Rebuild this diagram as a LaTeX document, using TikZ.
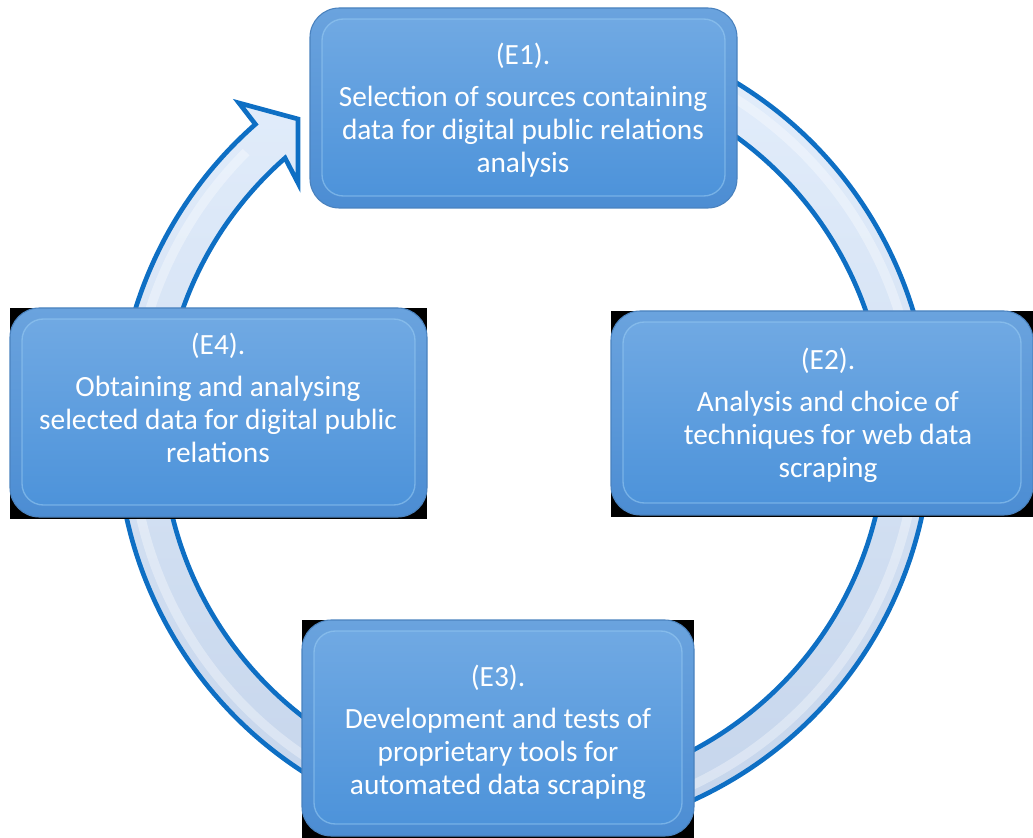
\documentclass[tikz,border=0pt]{standalone}
\usepackage{fontspec}
\setmainfont{Carlito}
\definecolor{ringline}{HTML}{0E6FC4}
\definecolor{ringtop}{HTML}{E2EDFB}
\definecolor{ringbot}{HTML}{C3D3EA}
\definecolor{rimedge}{HTML}{4A82BE}
\definecolor{rimtop}{HTML}{6AA3DE}
\definecolor{rimbot}{HTML}{4C8DD3}
\definecolor{facetop}{HTML}{70A9E3}
\definecolor{facebot}{HTML}{4D93DA}
\definecolor{facehl}{HTML}{9ACDF4}
\newcommand\stagefont{\fontsize{22}{24.75}\selectfont}
\tikzset{
  ringband/.style={draw=ringline, line width=3.5pt, line join=miter,
    top color=ringtop, bottom color=ringbot},
  ringgloss/.style={draw=white, opacity=0.35, line width=7pt},
  backdrop/.style={fill=black},
  boxrim/.style={rounded corners=22pt, draw=rimedge, line width=0.8pt,
    top color=rimtop, bottom color=rimbot},
  boxface/.style={rounded corners=16pt, draw=facehl, draw opacity=0.55,
    line width=1pt, top color=facetop, bottom color=facebot},
  stagetext/.style={text=white, align=center, font=\stagefont, inner sep=0pt},
}
\begin{document}
\begin{tikzpicture}[x=0.75pt,y=-0.75pt]
\useasboundingbox (0,0) rectangle (1033,838);

% circular arrow running clockwise, head pointing at the first stage
\begin{scope}[shift={(524,430)}]
  \path[ringband] (-65:407) arc[start angle=-65, end angle=228.7, radius=407]
    -- (-285,-327) -- (-226,-311) -- (-226,-247) -- (228.7:362)
    arc[start angle=228.7, end angle=-65, radius=362] -- cycle;
  \draw[ringgloss] (-60:393) arc[start angle=-60, end angle=225, radius=393];
\end{scope}

% stage E1
\path[boxrim] (310,8) rectangle (737,208);
\path[boxface] (322,19) rectangle (725,196);
\node[stagetext] (e1) at (523,110)
  {(E1).\\[7pt]Selection of sources containing\\data for digital public relations\\analysis};

% stage E2
\fill[backdrop] (611,311) rectangle (1033,517);
\path[boxrim] (611,311) rectangle (1033,515);
\path[boxface] (623,322) rectangle (1021,503);
\node[stagetext] (e2) at (828,415)
  {(E2).\\[7pt]Analysis and choice of\\techniques for web data\\scraping};

% stage E3
\fill[backdrop] (302,620) rectangle (694,838);
\path[boxrim] (302,620) rectangle (694,836);
\path[boxface] (314,631) rectangle (682,824);
\node[stagetext] (e3) at (498,732)
  {(E3).\\[7pt]Development and tests of\\proprietary tools for\\automated data scraping};

% stage E4
\fill[backdrop] (10,308) rectangle (427,519);
\path[boxrim] (10,308) rectangle (427,517);
\path[boxface] (22,319) rectangle (415,505);
\node[stagetext] (e4) at (218,398)
  {(E4).\\[7pt]Obtaining and analysing\\selected data for digital public\\relations};
\end{tikzpicture}
\end{document}
